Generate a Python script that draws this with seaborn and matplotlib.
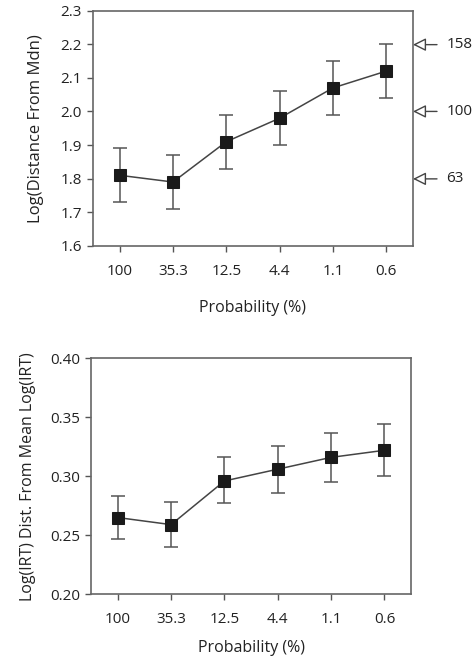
import numpy as np
import pandas as pd
import matplotlib
matplotlib.use("Agg")
import matplotlib.pyplot as plt
import seaborn as sns

# datos
probabilidad = ["100", "35.3", "12.5", "4.4", "1.1", "0.6"]

dist_media = [1.81, 1.79, 1.91, 1.98, 2.07, 2.12]
dist_err = [0.08, 0.08, 0.08, 0.08, 0.08, 0.08]

irt_media = [0.265, 0.259, 0.296, 0.306, 0.316, 0.322]
irt_sup = [0.283, 0.278, 0.316, 0.326, 0.337, 0.344]
irt_inf = [0.247, 0.240, 0.277, 0.286, 0.295, 0.300]

flechas_valor = [158, 100, 63]

sns.set_style("white")
plt.rcParams['font.family'] = ['Open Sans', 'DejaVu Sans']
plt.rcParams['text.color'] = '#222222'
plt.rcParams['axes.labelcolor'] = '#222222'
plt.rcParams['xtick.color'] = '#555555'
plt.rcParams['ytick.color'] = '#555555'
plt.rcParams['xtick.labelcolor'] = '#222222'
plt.rcParams['ytick.labelcolor'] = '#222222'

fig = plt.figure(figsize=(4.72, 6.61), dpi=100)
ax1 = fig.add_axes([0.197, 0.628, 0.678, 0.356])
ax2 = fig.add_axes([0.193, 0.101, 0.678, 0.357])

df1 = pd.DataFrame({"x": np.arange(len(probabilidad)), "y": dist_media, "err": dist_err})
df2 = pd.DataFrame({"x": np.arange(len(probabilidad)), "y": irt_media})
df2["lo"] = df2["y"] - np.array(irt_inf)
df2["hi"] = np.array(irt_sup) - df2["y"]


def dibujar(ax, df, yerr, pad_label):
    ax.errorbar(df["x"], df["y"], yerr=yerr, fmt="none", ecolor="#555555",
                elinewidth=1.1, capsize=5, capthick=1.1, zorder=2)
    sns.lineplot(data=df, x="x", y="y", ax=ax, color="#444444", linewidth=1.1,
                 marker="s", markersize=8, markerfacecolor="#1a1a1a",
                 markeredgecolor="#1a1a1a", zorder=3)
    ax.set_xlim(-0.5, len(probabilidad) - 0.5)
    ax.set_xticks(df["x"])
    ax.set_xticklabels(probabilidad)
    ax.set_xlabel("Probability (%)", fontsize=11.5, labelpad=pad_label)
    ax.tick_params(axis="both", direction="out", length=4, width=1, labelsize=11,
                   bottom=True, left=True)
    ax.tick_params(axis="x", pad=9)
    ax.tick_params(axis="y", pad=4)
    for s in ax.spines.values():
        s.set_visible(True)
        s.set_color("#666666")
        s.set_linewidth(1.2)


dibujar(ax1, df1, df1["err"], 15)
ax1.set_ylim(1.6, 2.3)
ax1.set_yticks([1.6, 1.7, 1.8, 1.9, 2.0, 2.1, 2.2, 2.3])
ax1.set_ylabel("Log(Distance From Mdn)", fontsize=12, labelpad=12)

# flechas de la derecha
for v in flechas_valor:
    yv = np.log10(v)
    ax1.annotate("", xy=(1.0, yv), xytext=(1.075, yv),
                 xycoords=("axes fraction", "data"), textcoords=("axes fraction", "data"),
                 arrowprops=dict(arrowstyle="-|>,head_length=0.6,head_width=0.3",
                                 mutation_scale=13, fc="white", ec="#444444", lw=1.0,
                                 shrinkA=0, shrinkB=0),
                 annotation_clip=False)
    ax1.text(1.105, yv, str(v), transform=ax1.get_yaxis_transform(),
             va="center", ha="left", fontsize=11, color="#222222", clip_on=False)

dibujar(ax2, df2, [df2["lo"], df2["hi"]], 9)
ax2.set_ylim(0.20, 0.40)
ax2.set_yticks([0.20, 0.25, 0.30, 0.35, 0.40])
ax2.set_yticklabels(["0.20", "0.25", "0.30", "0.35", "0.40"])
ax2.set_ylabel("Log(IRT) Dist. From Mean Log(IRT)", fontsize=11.5, labelpad=10)

fig.savefig("out.png", dpi=100)
plt.close(fig)
